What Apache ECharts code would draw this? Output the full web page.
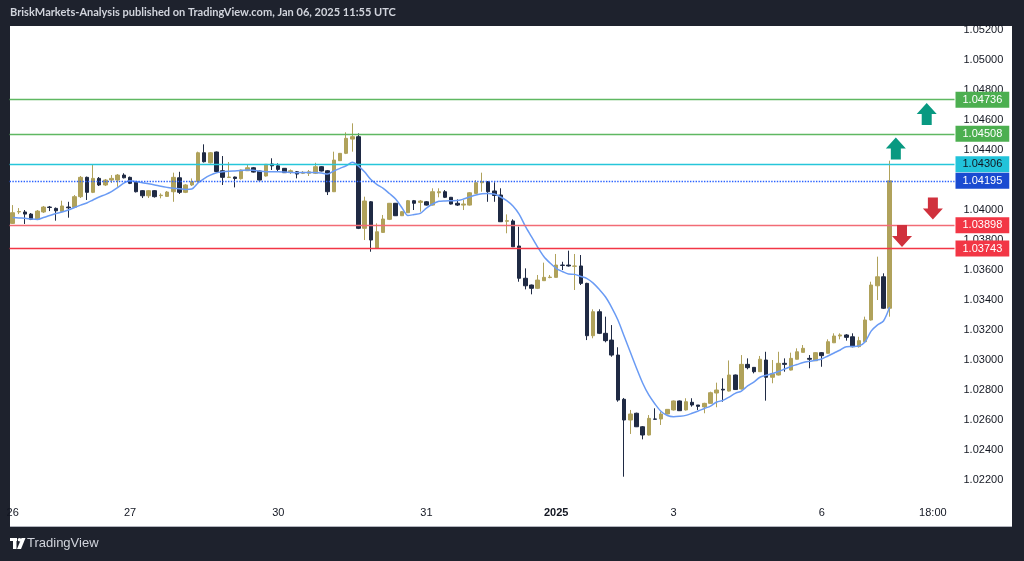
<!DOCTYPE html>
<html><head><meta charset="utf-8">
<script src="https://cdn.jsdelivr.net/npm/echarts@6/dist/echarts.min.js"></script>
<style>
html,body{margin:0;padding:0;background:#1e222d;overflow:hidden;}
#panel{position:absolute;left:10px;top:26px;width:1002px;height:500px;background:#ffffff;border-bottom:1px solid #b2b5be;}
#c{position:absolute;left:0;top:0;width:1024px;height:561px;}
</style></head><body>
<div id="panel"></div>
<div id="c"></div>
<script>
// ---- data ----
const daySegments = [['26',5,19],['27',0,24],['30',0,24],['31',0,21],['2025',5,19],['3',0,24],['6',0,22]];
const tickLabels = [['26 05:00','26'],['27 00:00','27'],['30 00:00','30'],['31 00:00','31'],['2025 05:00','2025'],['3 00:00','3'],['6 00:00','6'],['6 18:00','18:00']];

const opens = [1.03911,1.03987,1.03987,1.03973,1.03938,1.03987,1.04020,1.04011,1.03991,1.04020,
1.04018,1.04089,1.04218,1.04118,1.04211,1.04167,1.04200,1.04200,1.04233,1.04218,
1.04185,1.04129,1.04095,1.04129,1.04096,1.04091,1.04122,1.04215,1.04118,1.04167,
1.04189,1.04382,1.04315,1.04387,1.04262,1.04217,1.04220,1.04209,1.04262,1.04282,
1.04260,1.04227,1.04307,1.04295,1.04278,1.04251,1.04255,1.04245,1.04245,1.04245,
1.04289,1.04262,1.04122,1.04329,1.04378,1.04473,1.04489,1.03878,1.04055,1.03745,
1.03851,1.03938,1.04045,1.03962,1.03982,1.04062,1.04051,1.04055,1.04033,1.04115,
1.04122,1.04085,1.04045,1.04033,1.04033,1.04111,1.04182,1.04189,1.04127,1.04100,
1.03925,1.03927,1.03760,1.03545,1.03500,1.03478,1.03529,1.03550,1.03551,1.03633,
1.03633,1.03625,1.03627,1.03511,1.03162,1.03322,1.03178,1.03133,1.03033,1.02738,
1.02600,1.02645,1.02555,1.02500,1.02607,1.02607,1.02640,1.02667,1.02727,1.02667,
1.02718,1.02700,1.02687,1.02711,1.02780,1.02805,1.02793,1.02900,1.02807,1.02971,
1.02951,1.02922,1.03000,1.02885,1.02900,1.02978,1.02933,1.03005,1.03051,1.03011,
1.02995,1.03049,1.03045,1.03115,1.03160,1.03167,1.03155,1.03089,1.03122,1.03267,
1.03495,1.03555,1.03345];
const closes = [1.03982,1.03990,1.03973,1.03938,1.03993,1.04020,1.04017,1.03995,1.04027,1.04015,
1.04089,1.04218,1.04118,1.04211,1.04167,1.04200,1.04211,1.04233,1.04215,1.04178,
1.04122,1.04095,1.04129,1.04089,1.04099,1.04120,1.04218,1.04118,1.04167,1.04189,
1.04382,1.04322,1.04382,1.04257,1.04218,1.04220,1.04210,1.04267,1.04282,1.04253,
1.04200,1.04305,1.04295,1.04271,1.04249,1.04262,1.04240,1.04251,1.04255,1.04289,
1.04260,1.04122,1.04333,1.04378,1.04478,1.04489,1.03878,1.04060,1.03800,1.03855,
1.03940,1.04045,1.03962,1.03989,1.04062,1.04045,1.04060,1.04033,1.04122,1.04122,
1.04085,1.04040,1.04033,1.04040,1.04115,1.04182,1.04189,1.04122,1.04097,1.03922,
1.03929,1.03755,1.03545,1.03495,1.03478,1.03533,1.03551,1.03553,1.03633,1.03631,
1.03627,1.03627,1.03511,1.03162,1.03322,1.03178,1.03129,1.03033,1.02733,1.02600,
1.02640,1.02555,1.02500,1.02611,1.02605,1.02640,1.02671,1.02727,1.02662,1.02722,
1.02700,1.02691,1.02711,1.02782,1.02800,1.02800,1.02900,1.02803,1.02971,1.02949,
1.02922,1.03005,1.02885,1.02907,1.02978,1.02971,1.03011,1.03055,1.03078,1.03005,
1.03049,1.03029,1.03122,1.03160,1.03167,1.03151,1.03089,1.03129,1.03267,1.03500,
1.03555,1.03345,1.04195];
const lows = [1.03907,1.03973,1.03907,1.03933,1.03933,1.03980,1.03993,1.03929,1.03987,1.03949,
1.04013,1.04080,1.04067,1.04113,1.04160,1.04160,1.04180,1.04155,1.04211,1.04173,
1.04117,1.04080,1.04080,1.04083,1.04078,1.04087,1.04055,1.04107,1.04113,1.04160,
1.04183,1.04317,1.04310,1.04253,1.04167,1.04213,1.04151,1.04203,1.04260,1.04250,
1.04197,1.04223,1.04267,1.04255,1.04247,1.04240,1.04211,1.04240,1.04227,1.04240,
1.04257,1.04100,1.04120,1.04327,1.04373,1.04389,1.03873,1.03800,1.03722,1.03740,
1.03847,1.03933,1.03960,1.03960,1.03980,1.04000,1.03989,1.04030,1.04030,1.04085,
1.04080,1.04037,1.04027,1.04000,1.04030,1.04107,1.04122,1.04055,1.04055,1.03920,
1.03845,1.03753,1.03522,1.03471,1.03438,1.03473,1.03527,1.03545,1.03550,1.03600,
1.03623,1.03467,1.03500,1.03133,1.03145,1.03173,1.03118,1.03022,1.02722,1.02222,
1.02507,1.02553,1.02471,1.02497,1.02603,1.02567,1.02637,1.02663,1.02660,1.02663,
1.02689,1.02667,1.02645,1.02710,1.02685,1.02722,1.02790,1.02800,1.02803,1.02938,
1.02911,1.02920,1.02729,1.02845,1.02897,1.02922,1.02930,1.03003,1.03050,1.02945,
1.02993,1.02955,1.03043,1.03113,1.03138,1.03129,1.03085,1.03083,1.03120,1.03263,
1.03400,1.03340,1.03289];
const highs = [1.04033,1.04013,1.04000,1.03980,1.04000,1.04027,1.04027,1.04017,1.04062,1.04055,
1.04100,1.04227,1.04223,1.04305,1.04220,1.04207,1.04233,1.04240,1.04245,1.04223,
1.04187,1.04133,1.04133,1.04133,1.04111,1.04127,1.04249,1.04255,1.04173,1.04211,
1.04389,1.04438,1.04387,1.04390,1.04360,1.04320,1.04223,1.04270,1.04305,1.04287,
1.04263,1.04307,1.04345,1.04311,1.04280,1.04271,1.04260,1.04260,1.04267,1.04315,
1.04293,1.04267,1.04389,1.04380,1.04518,1.04578,1.04511,1.04089,1.04060,1.03911,
1.03967,1.04047,1.04047,1.03993,1.04067,1.04067,1.04067,1.04060,1.04145,1.04145,
1.04133,1.04087,1.04071,1.04067,1.04120,1.04200,1.04249,1.04193,1.04185,1.04145,
1.03971,1.03938,1.03889,1.03611,1.03503,1.03567,1.03649,1.03567,1.03707,1.03655,
1.03729,1.03707,1.03700,1.03515,1.03338,1.03338,1.03289,1.03233,1.03085,1.02747,
1.02667,1.02649,1.02560,1.02633,1.02678,1.02655,1.02673,1.02730,1.02730,1.02745,
1.02745,1.02700,1.02715,1.02789,1.02849,1.02878,1.02997,1.02903,1.03033,1.03011,
1.02953,1.03027,1.03055,1.03000,1.03055,1.03011,1.03049,1.03078,1.03100,1.03033,
1.03053,1.03053,1.03138,1.03178,1.03178,1.03173,1.03178,1.03155,1.03289,1.03522,
1.03689,1.03578,1.04329];
const maValues = [1.03950,1.03947,1.03945,1.03940,1.03937,1.03950,1.03963,1.03977,1.03987,1.04000,
1.04017,1.04033,1.04047,1.04067,1.04087,1.04103,1.04123,1.04150,1.04180,1.04195,
1.04190,1.04182,1.04175,1.04167,1.04158,1.04151,1.04145,1.04142,1.04137,1.04140,
1.04180,1.04210,1.04233,1.04249,1.04255,1.04259,1.04261,1.04263,1.04267,1.04265,
1.04259,1.04255,1.04255,1.04255,1.04253,1.04251,1.04249,1.04250,1.04251,1.04251,
1.04247,1.04240,1.04260,1.04278,1.04295,1.04318,1.04293,1.04253,1.04203,1.04170,
1.04145,1.04110,1.04073,1.04017,1.03963,1.03970,1.03978,1.04013,1.04040,1.04058,
1.04061,1.04062,1.04063,1.04073,1.04087,1.04100,1.04108,1.04110,1.04107,1.04087,
1.04063,1.04027,1.03973,1.03893,1.03823,1.03753,1.03690,1.03647,1.03611,1.03590,
1.03573,1.03571,1.03557,1.03543,1.03513,1.03470,1.03420,1.03350,1.03267,1.03160,
1.03053,1.02947,1.02847,1.02767,1.02707,1.02657,1.02630,1.02622,1.02625,1.02631,
1.02645,1.02660,1.02677,1.02693,1.02720,1.02731,1.02753,1.02778,1.02793,1.02827,
1.02853,1.02885,1.02898,1.02910,1.02923,1.02940,1.02957,1.02970,1.02983,1.02991,
1.02998,1.03007,1.03027,1.03047,1.03067,1.03089,1.03090,1.03093,1.03120,1.03193,
1.03233,1.03260,1.03353];

const levelPrices = [1.04736, 1.04508, 1.04306, 1.04195, 1.03898, 1.03743];
const arrowsUp = [['6 17:00', 1.04640], ['6 12:00', 1.04410]];
const arrowsDown = [['6 18:00', 1.04010], ['6 13:00', 1.03827]];

// ---- build ----
const categories = [];
daySegments.forEach(([d, start, n]) => {
  for (let k = 0; k < n; k++) categories.push(d + ' ' + String(start + k).padStart(2, '0') + ':00');
});
const labelMap = {};
tickLabels.forEach(([k, v]) => labelMap[k] = v);
const candleData = opens.map((o, i) => [o, closes[i], lows[i], highs[i]]);

const levelStyles = [
  {line:'#5fb862', type:'solid', bg:'#4caf50', fg:'#ffffff'},
  {line:'#5fb862', type:'solid', bg:'#4caf50', fg:'#ffffff'},
  {line:'#26c6da', type:'solid', bg:'#22c3da', fg:'#131722'},
  {line:'#2962ff', type:'dotted', bg:'#1a4bd1', fg:'#ffffff'},
  {line:'#f26b75', type:'solid', bg:'#f23645', fg:'#ffffff'},
  {line:'#f23645', type:'solid', bg:'#f23645', fg:'#ffffff'}
];
const upPath = 'path://M10,0 L20,11 L15,11 L15,22 L5,22 L5,11 L0,11 Z';
const downPath = 'path://M5,0 L15,0 L15,11 L20,11 L10,22 L0,11 L5,11 Z';
const F = 'Liberation Sans, Arial, sans-serif';

const levelSeries = levelPrices.map((p, i) => ({
  type: 'line', data: [], silent: true, z: 1,
  markLine: {
    symbol: ['none', 'none'], silent: true, animation: false, precision: 5,
    lineStyle: {color: levelStyles[i].line, width: 1.4, type: levelStyles[i].type, opacity: 1},
    label: {show: true, position: 'end', distance: 1, formatter: () => p.toFixed(5),
      backgroundColor: levelStyles[i].bg, color: levelStyles[i].fg, padding: [2, 7, 2, 7],
      fontSize: 11, lineHeight: 12, fontFamily: F},
    emphasis: {disabled: true},
    data: [{yAxis: p}]
  }
}));

const chart = echarts.init(document.getElementById('c'), null, {renderer:'canvas'});
chart.setOption({
  animation: false,
  backgroundColor: 'transparent',
  grid: {left: 9.6, right: 69.5, top: 26, bottom: 51, containLabel: false},
  xAxis: {
    type: 'category', data: categories, boundaryGap: true,
    axisLine: {show: false}, axisTick: {show: false}, splitLine: {show: false},
    axisLabel: {
      margin: -3, fontSize: 11, color: '#131722', fontFamily: F,
      interval: (idx, val) => labelMap[val] !== undefined,
      formatter: (val) => labelMap[val] === '2025' ? '{b|2025}' : (labelMap[val] || ''),
      rich: {b: {fontWeight: 'bold', fontSize: 11, color: '#131722', fontFamily: F}}
    }
  },
  yAxis: {
    type: 'value', position: 'right', min: 1.020, max: 1.05227, interval: 0.002,
    axisLine: {show: false}, axisTick: {show: false}, splitLine: {show: false},
    axisLabel: {margin: 9, fontSize: 11, color: '#131722', fontFamily: F,
      showMinLabel: false, showMaxLabel: false,
      formatter: (v) => v.toFixed(5)}
  },
  graphic: [
    {type: 'text', x: 10, y: 6, scaleX: 0.92, scaleY: 1, style: {text: 'BriskMarkets-Analysis published on TradingView.com, Jan 06, 2025 11:55 UTC', fill: '#d1d4dc', font: 'bold 12px Lato, sans-serif'}},
    {type: 'group', left: 10, top: 538, children: [
      {type: 'rect', shape: {x: 0, y: 0, width: 7, height: 3}, style: {fill: '#ffffff'}},
      {type: 'rect', shape: {x: 3, y: 0, width: 3.5, height: 11}, style: {fill: '#ffffff'}},
      {type: 'circle', shape: {cx: 9.5, cy: 1.8, r: 1.8}, style: {fill: '#ffffff'}},
      {type: 'polygon', shape: {points: [[11.5,0],[15.5,0],[11,11],[7,11]]}, style: {fill: '#ffffff'}}
    ]},
    {type: 'text', left: 27, top: 537, style: {text: 'TradingView', fill: '#d1d4dc', font: '13px Liberation Sans, Arial, sans-serif'}}
  ],
  series: levelSeries.concat([
    {
      type: 'candlestick', data: candleData, barWidth: 4, z: 2,
      itemStyle: {color: '#b0a25b', color0: '#1f2a44', borderColor: '#b0a25b', borderColor0: '#1f2a44', borderWidth: 1},
      markPoint: {
        silent: true, animation: false, label: {show: false},
        data: arrowsUp.map(([c, v]) => ({coord: [c, v], symbol: upPath, symbolSize: [20, 22], itemStyle: {color: '#089981'}}))
          .concat(arrowsDown.map(([c, v]) => ({coord: [c, v], symbol: downPath, symbolSize: [20, 22], itemStyle: {color: '#d0313d'}})))
      }
    },
    {
      type: 'line', data: maValues, symbol: 'none', smooth: 0.3, z: 3,
      lineStyle: {color: '#6a9bf4', width: 1.5}
    }
  ])
});
</script>
</body></html>
